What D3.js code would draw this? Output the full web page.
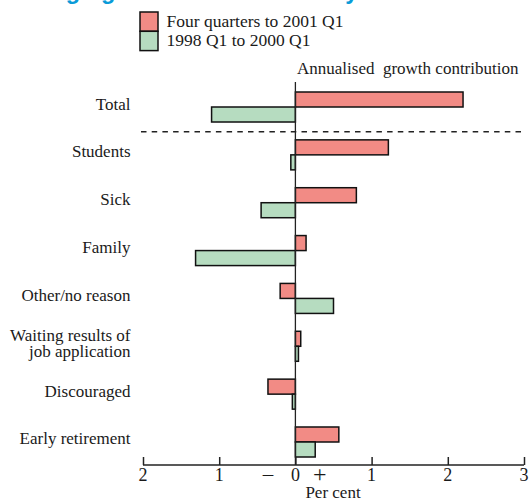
<!DOCTYPE html>
<html>
<head>
<meta charset="utf-8">
<script src="https://cdn.jsdelivr.net/npm/d3@7"></script>
<style>
  html, body { margin: 0; padding: 0; background: #fff; }
  svg { display: block; }
  text { font-family: "Liberation Serif", "Times New Roman", serif; fill: #1a1a1a; }
</style>
</head>
<body>
<svg id="chart" width="530" height="500"></svg>
<script>
// ---- data ----
const title = "Changing reasons for inactivity";
const categories = ["Total", "Students", "Sick", "Family", "Other/no reason",
  "Waiting results of\njob application", "Discouraged", "Early retirement"];
const seriesNames = ["Four quarters to 2001 Q1", "1998 Q1 to 2000 Q1"];
const recentValues = [2.20, 1.22, 0.80, 0.14, -0.20, 0.07, -0.36, 0.57];
const earlierValues = [-1.10, -0.06, -0.45, -1.31, 0.50, 0.04, -0.04, 0.26];
const tickValues = [-2, -1, 0, 1, 2, 3];
const seriesColors = ["#f28b85", "#b6dcc0"];
const axisTitle = "Per cent";
const topNote = "Annualised  growth contribution";

// ---- layout ----
const svg = d3.select("#chart");
const x = d3.scaleLinear().domain([-2, 3]).range([143, 524]);
const y = d3.scaleBand().domain(categories).range([92, 457]).paddingInner(0.373).paddingOuter(0);
const ySub = d3.scaleBand().domain(seriesNames).range([0, y.bandwidth()]);
const color = d3.scaleOrdinal().domain(seriesNames).range(seriesColors);
const axisY = 465;

// title (cut off at top, as in the reference)
svg.append("text").attr("x", 7).attr("y", -1)
  .style("font-family", "'Liberation Sans', Arial, sans-serif")
  .style("font-weight", "bold").style("font-size", "23.5px")
  .style("fill", "#0a9bd8").text(title);

// legend
const leg = svg.append("g");
seriesNames.forEach((s, i) => {
  leg.append("rect").attr("x", 140).attr("y", 12 + i * 19.3).attr("width", 18).attr("height", 19.3)
    .attr("fill", color(s)).attr("stroke", "#111").attr("stroke-width", 1.5);
  leg.append("text").attr("x", 166.5).attr("y", 26.5 + i * 19.5)
    .style("font-size", "17.5px").text(s);
});

// top note
svg.append("text").attr("x", 297).attr("y", 73.5)
  .style("font-size", "17px").style("white-space", "pre").attr("xml:space", "preserve").text(topNote);

// bars
const rows = categories.map((c, i) => ({ cat: c, vals: [recentValues[i], earlierValues[i]] }));
const groups = svg.append("g").selectAll("g").data(rows).join("g")
  .attr("transform", d => `translate(0,${y(d.cat)})`);
groups.selectAll("rect").data(d => d.vals.map((v, j) => ({ s: seriesNames[j], v })))
  .join("rect")
  .attr("x", d => x(Math.min(0, d.v)))
  .attr("width", d => Math.abs(x(d.v) - x(0)))
  .attr("y", d => ySub(d.s))
  .attr("height", ySub.bandwidth())
  .attr("fill", d => color(d.s))
  .attr("stroke", "#111").attr("stroke-width", 1.5);

// category labels
const labels = svg.append("g").selectAll("text").data(categories).join("text")
  .attr("text-anchor", "end").style("font-size", "17px")
  .attr("transform", d => `translate(130.5,${y(d) + y.bandwidth() / 2 + 2.5})`);
labels.each(function(d) {
  const lines = d.split("\n");
  const t = d3.select(this);
  lines.forEach((ln, k) => {
    t.append("tspan").attr("x", 0).attr("y", (k - (lines.length - 1) / 2) * 16).text(ln);
  });
});

// dashed separator
svg.append("line").attr("x1", 141).attr("x2", 521)
  .attr("y1", 131.7).attr("y2", 131.7)
  .attr("stroke", "#222").attr("stroke-width", 1.5).attr("stroke-dasharray", "5.5,5.2");

// zero line
svg.append("line").attr("x1", x(0)).attr("x2", x(0)).attr("y1", 82).attr("y2", axisY)
  .attr("stroke", "#222").attr("stroke-width", 1.3);

// x axis
const axis = d3.axisTop(x).tickValues(tickValues).tickSize(8).tickFormat(() => "");
const gx = svg.append("g").attr("transform", `translate(0,${axisY})`).call(axis);
gx.select(".domain").attr("stroke", "#222").attr("stroke-width", 1.5).attr("d", `M${x(-2)},0H${x(3)}`);
gx.selectAll(".tick line").attr("stroke", "#222").attr("stroke-width", 1.5);
svg.append("g").selectAll("text").data(tickValues).join("text")
  .attr("x", d => x(d)).attr("y", 481).attr("text-anchor", "middle")
  .style("font-size", "18px").text(d => Math.abs(d));
svg.append("text").attr("x", x(-0.36)).attr("y", 480.5).attr("text-anchor", "middle")
  .style("font-size", "21px").text("\u2013");
svg.append("text").attr("x", x(0.32)).attr("y", 481.5).attr("text-anchor", "middle")
  .style("font-size", "24px").text("+");
svg.append("text").attr("x", 333).attr("y", 497.5).attr("text-anchor", "middle")
  .style("font-size", "17px").text(axisTitle);
</script>
</body>
</html>
